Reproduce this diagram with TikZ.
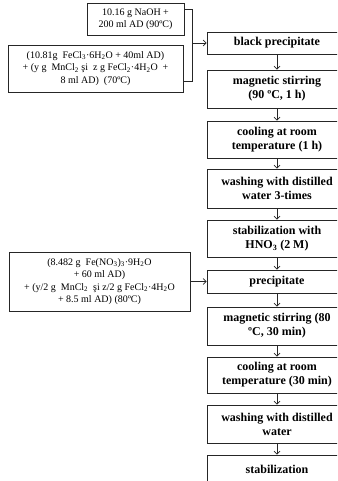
\documentclass[tikz,border=0pt]{standalone}
\usepackage{fontspec}
\setmainfont{Liberation Serif}
\usepackage{tikz}
\usetikzlibrary{arrows.meta, positioning}
\newcommand{\lw}[1]{\textsubscript{#1}}

\begin{document}
\begin{tikzpicture}[x=1pt, y=-1pt,
    stepbox/.style={draw=black!85, line width=0.8pt, minimum width=140pt, inner sep=1pt,
      align=center, font=\fontsize{12}{14}\selectfont\bfseries},
    srcbox/.style={draw=black!85, line width=0.8pt, inner sep=1pt, align=center,
      font=\fontsize{10}{12.5}\selectfont},
    arr/.style={draw=black!85, line width=0.7pt, -{Straight Barb[length=3pt, width=6pt]}}]
    \useasboundingbox (0,0) rectangle (337,481);
    \clip (0,0) rectangle (337,481);
    % starting solutions
    \node[srcbox, minimum width=97pt, minimum height=32pt] (naoh) at (135.5,19)
      {10.16 g NaOH +\\200 ml AD (90ºC)};
    \node[srcbox, minimum width=175pt, minimum height=47pt] (fecla) at (95.5,68.5)
      {(10.81g\ \ FeCl\lw{3}·6H\lw{2}O + 40ml AD)\\+ (y g\ \ MnCl\lw{2} şi\ \ z g FeCl\lw{2}·4H\lw{2}O\ \ +\\8 ml AD)\ \ (70ºC)};
    \node[srcbox, minimum width=181pt, minimum height=59pt] (fenit) at (99.5,281.5)
      {(8.482 g\ \ Fe(NO\lw{3})\lw{3}·9H\lw{2}O\\+ 60 ml AD)\\+ (y/2 g\ \ MnCl\lw{2}\ \ şi z/2 g FeCl\lw{2}·4H\lw{2}O\\+ 8.5 ml AD) (80ºC)};
    % process steps
    \node[stepbox, minimum height=22pt] (bp) at (277,43) {black precipitate};
    \node[stepbox, minimum height=38pt] (stira) at (277,89) {magnetic stirring\\(90 ºC, 1 h)};
    \node[stepbox, minimum height=37pt] (coola) at (277,139.5) {cooling at room\\temperature (1 h)};
    \node[stepbox, minimum height=39pt] (washa) at (277,188.5) {washing with distilled\\water 3-times};
    \node[stepbox, minimum height=37pt] (staba) at (277,238.5) {stabilization with\\HNO\lw{3} (2 M)};
    \node[stepbox, minimum height=23pt] (prec) at (277,281.5) {precipitate};
    \node[stepbox, minimum height=38pt] (stirb) at (277,326) {magnetic stirring (80\\ºC, 30 min)};
    \node[stepbox, minimum height=36pt] (coolb) at (277,375) {cooling at room\\temperature (30 min)};
    \node[stepbox, minimum height=38pt] (washb) at (277,424) {washing with distilled\\water};
    \node[stepbox, minimum height=28pt] (stabb) at (277,469) {stabilization};
    % bracket joining the two solutions
    \coordinate (brtop) at (192,9);
    \coordinate (brbot) at (192,81);
    \draw[draw=black!85, line width=0.8pt] (naoh.east |- brtop) -- (brtop) -- (brbot) -- (fecla.east |- brbot);
    \draw[arr] (brtop |- bp.west) -- (bp.west);
    \draw[arr] (fenit.east) -- (prec.west);
    \foreach \a/\b in {bp/stira, stira/coola, coola/washa, washa/staba, staba/prec,
       prec/stirb, stirb/coolb, coolb/washb, washb/stabb}
      \draw[arr] (\a) -- (\b);
\end{tikzpicture}
\end{document}
